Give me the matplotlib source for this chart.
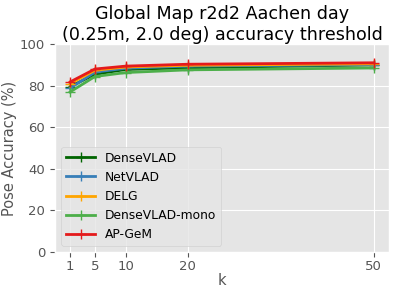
import matplotlib
matplotlib.use('Agg')
import matplotlib.pyplot as plt

plt.style.use('ggplot')

k = [1, 5, 10, 20, 50]
densevlad = [79.5, 85.5, 87.8, 88.6, 90.0]
netvlad = [78.8, 86.5, 88.4, 89.4, 90.1]
delg = [81.0, 87.4, 89.0, 89.8, 90.5]
densevlad_mono = [77.0, 84.4, 86.3, 87.6, 88.5]
apgem = [81.8, 88.0, 89.4, 90.3, 91.0]

fig, ax = plt.subplots(figsize=(4, 2.88), dpi=100)
ax.plot(k, densevlad, color='darkgreen', marker='+', lw=2, ms=7, label='DenseVLAD')
ax.plot(k, netvlad, color='#377eb8', marker='+', lw=2, ms=7, label='NetVLAD')
ax.plot(k, delg, color='orange', marker='+', lw=2, ms=7, label='DELG')
ax.plot(k, densevlad_mono, color='#4daf4a', marker='+', lw=2, ms=7, label='DenseVLAD-mono')
ax.plot(k, apgem, color='#e41a1c', marker='+', lw=2, ms=7, label='AP-GeM')

ax.set_ylim(0, 100)
ax.set_xticks(k)
ax.tick_params(labelsize=9.5)
ax.tick_params(axis='x', pad=2)
ax.set_xlabel('k', fontsize=10.5, labelpad=0)
ax.set_ylabel('Pose Accuracy (%)', fontsize=10.5, labelpad=2)
ax.set_title('Global Map r2d2 Aachen day\n(0.25m, 2.0 deg) accuracy threshold', fontsize=12.6, pad=2)
ax.legend(loc='lower left', fontsize=8.8, handlelength=2.4)

fig.subplots_adjust(left=0.1375, right=0.9725, bottom=0.125, top=0.847)
fig.savefig('out.png')
